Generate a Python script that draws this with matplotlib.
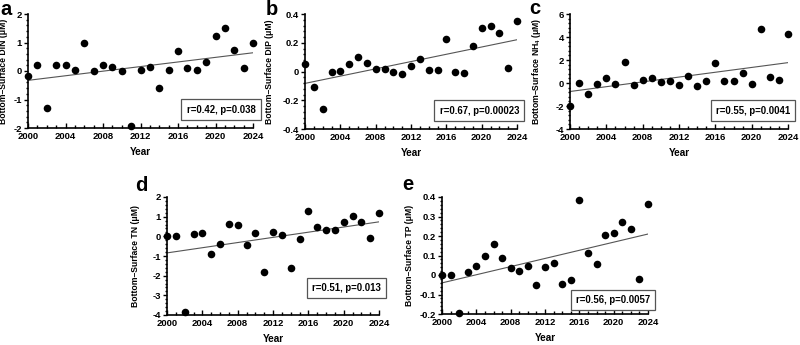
import numpy as np
import matplotlib
matplotlib.use("Agg")
import matplotlib.pyplot as plt
from matplotlib.ticker import MultipleLocator, AutoMinorLocator

plt.rcParams['font.family'] = ['Liberation Sans', 'DejaVu Sans']
plt.rcParams['font.weight'] = 'bold'
plt.rcParams['mathtext.fontset'] = 'custom'
plt.rcParams['mathtext.rm'] = 'Liberation Sans:bold'
plt.rcParams['mathtext.bf'] = 'Liberation Sans:bold'

years = np.arange(2000, 2025)

din = [-0.18, 0.2, -1.3, 0.2, 0.2, 0.03, 1.0, 0.0, 0.2, 0.13, 0.0, -1.92, 0.04,
       0.15, -0.58, 0.03, 0.7, 0.1, 0.03, 0.32, 1.22, 1.5, 0.72, 0.1, 1.0]
dip = [0.05, -0.11, -0.26, 0.0, 0.005, 0.05, 0.1, 0.06, 0.02, 0.02, 0.0, -0.015,
       0.04, 0.09, 0.012, 0.012, 0.225, -0.005, -0.008, 0.18, 0.3, 0.32, 0.27,
       0.022, 0.35]
nh4 = [-2.0, 0.0, -0.95, -0.1, 0.4, -0.1, 1.8, -0.15, 0.3, 0.45, 0.05, 0.15,
       -0.15, 0.6, -0.25, 0.15, 1.75, 0.2, 0.2, 0.9, -0.1, 4.7, 0.5, 0.25, 4.3]
tn = [0.0, 0.0, -3.85, 0.12, 0.15, -0.9, -0.4, 0.62, 0.58, -0.45, 0.15, -1.8,
      0.2, 0.08, -1.62, -0.12, 1.3, 0.48, 0.3, 0.3, 0.72, 1.02, 0.72, -0.1, 1.18]
tp = [0.0, 0.0, -0.195, 0.015, 0.045, 0.1, 0.16, 0.088, 0.035, 0.02, 0.045,
      -0.05, 0.04, 0.063, -0.047, -0.027, 0.385, 0.115, 0.057, 0.205, 0.213,
      0.272, 0.238, -0.018, 0.362]

labels = ['a', 'b', 'c', 'd', 'e']
series = [din, dip, nh4, tn, tp]
ylabels = ['Bottom\u2013Surface DIN (\u03bcM)',
           'Bottom\u2013Surface DIP (\u03bcM)',
           'Bottom\u2013Surface NH$_4$ (\u03bcM)',
           'Bottom\u2013Surface TN (\u03bcM)',
           'Bottom\u2013Surface TP (\u03bcM)']
stats = ['r=0.42, p=0.038', 'r=0.67, p=0.00023', 'r=0.55, p=0.0041',
         'r=0.51, p=0.013', 'r=0.56, p=0.0057']
ylims = [(-2, 2), (-0.4, 0.4), (-4, 6), (-4, 2), (-0.2, 0.4)]
ysteps = [1, 0.2, 2, 1, 0.1]

W, H = 800, 345
# axes boxes in pixels: left, top, right, bottom
px_boxes = [(28, 14, 253, 128),
            (305, 14, 517, 129),
            (570, 14, 788, 129),
            (167, 197, 379, 315),
            (442, 197, 648, 314)]
ylabel_x = [8, 274, 543, 140, 414]      # pixel x of y-label centre
label_pos = [(0, 0), (266, 0), (529, -1), (135, 176), (402, 175)]
stat_y = [0.16, 0.16, 0.16, 0.23, 0.12]

fig = plt.figure(figsize=(8, 3.45), dpi=100)

for i in range(5):
    l, t, r, b = px_boxes[i]
    ax = fig.add_axes([l / W, 1 - b / H, (r - l) / W, (b - t) / H])
    y = np.array(series[i])
    ax.scatter(years, y, s=30, c='black', zorder=3, clip_on=False, linewidths=0)
    slope, icpt = np.polyfit(years, y, 1)
    ax.plot([2000, 2024], [icpt + slope * 2000, icpt + slope * 2024],
            color='#555555', lw=0.8)
    ax.set_xlim(2000, 2024)
    ax.set_ylim(*ylims[i])
    ax.xaxis.set_major_locator(MultipleLocator(4))
    ax.xaxis.set_minor_locator(MultipleLocator(1))
    ax.yaxis.set_major_locator(MultipleLocator(ysteps[i]))
    ax.yaxis.set_minor_locator(AutoMinorLocator(5))
    for s in ['top', 'right']:
        ax.spines[s].set_visible(False)
    for s in ['left', 'bottom']:
        ax.spines[s].set_linewidth(1.2)
    ax.tick_params(axis='x', which='both', direction='in', labelsize=6.8, width=1.0, pad=3)
    ax.tick_params(axis='x', which='major', length=3.5)
    ax.tick_params(axis='x', which='minor', length=2)
    ax.tick_params(axis='y', which='both', direction='out', labelsize=6.8, width=1.0, pad=1.5)
    ax.tick_params(axis='y', which='major', length=3)
    ax.tick_params(axis='y', which='minor', length=1.5)
    ax.yaxis.set_major_formatter(plt.FuncFormatter(lambda v, p: '%g' % round(v, 3)))
    ax.set_xlabel('Year', fontsize=7.2, fontweight='bold', labelpad=4)
    ax.set_ylabel(ylabels[i], fontsize=6.2, fontweight='bold')
    ax.yaxis.set_label_coords((ylabel_x[i] - l) / (r - l), 0.5)
    ax.text(1.01, stat_y[i], stats[i], transform=ax.transAxes, ha='right', va='center',
            fontsize=6.9, fontweight='bold',
            bbox=dict(boxstyle='square,pad=0.55', fc='white', ec='#555555', lw=0.9))
    lx, ly = label_pos[i]
    fig.text(lx / W, 1 - ly / H, labels[i], fontsize=14.5, fontweight='bold',
             ha='left', va='top')

fig.savefig('out.png', dpi=100)
